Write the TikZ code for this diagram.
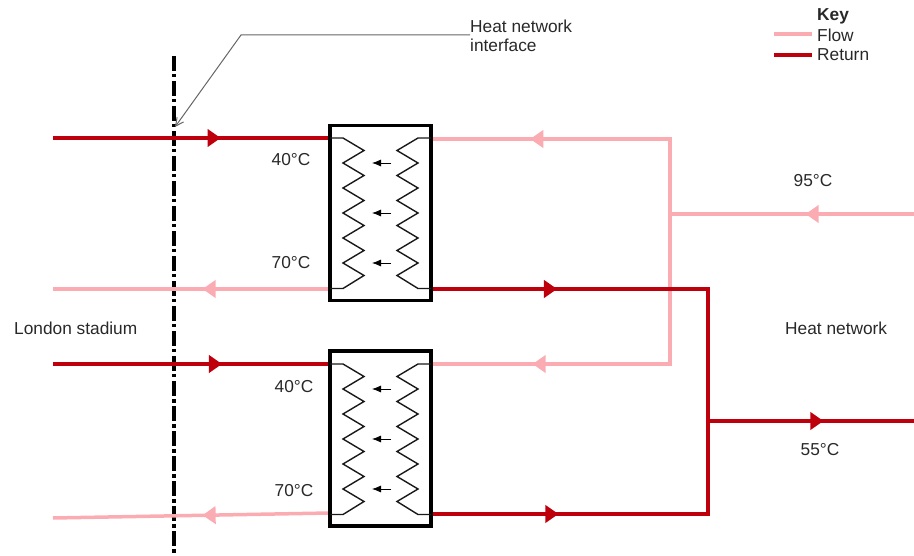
\documentclass[tikz,border=0pt]{standalone}
\usepackage{fontspec}
\setmainfont{Liberation Sans}
\usetikzlibrary{arrows.meta,shapes.geometric}
\definecolor{flowc}{RGB}{250,172,178}
\definecolor{retc}{RGB}{190,0,12}
\definecolor{txtc}{RGB}{40,40,40}
\tikzset{
  lbl/.style={font=\fontsize{17.3}{19}\selectfont, text=txtc, inner sep=0pt},
  flowpipe/.style={draw=flowc, line width=3.5pt, line join=miter},
  retpipe/.style={draw=retc, line width=3.5pt, line join=miter},
  flowtip/.style={isosceles triangle, isosceles triangle apex angle=70, fill=flowc, inner sep=0pt, minimum height=13pt, minimum width=15pt, sloped, allow upside down, anchor=center},
  rettip/.style={isosceles triangle, isosceles triangle apex angle=70, fill=retc, inner sep=0pt, minimum height=13pt, minimum width=15pt, sloped, allow upside down, anchor=center},
  backward/.style={shape border rotate=180},
  hxbox/.style={draw=black, line width=3.2pt, minimum width=101pt, minimum height=175pt, inner sep=0pt},
  coil/.style={draw=black!90, line width=1.4pt, line join=miter},
  heatarrow/.style={draw=black, line width=0.8pt, -{Latex[length=9pt,width=7pt]}},
  boundary/.style={draw=black, line width=3.2pt, dash pattern=on 15pt off 3pt on 3.5pt off 3.5pt},
  leader/.style={draw=black!60, line width=1pt, -{Straight Barb[length=8pt,width=8pt]}},
}
\newcommand{\hxcoil}[2]{%
  \draw[coil] (#1,#2) -- ++(13,0) -- ++(21,12.5) -- ++(-21,12.5) -- ++(21,12.5) -- ++(-21,12.5) -- ++(21,12.5) -- ++(-21,12.5) -- ++(21,12.5) -- ++(-21,12.5) -- ++(21,12.5) -- ++(-21,12.5) -- ++(21,12.5) -- ++(-21,13) -- ++(-13,0);
  \draw[coil] (#1+101,#2) -- ++(-13,0) -- ++(-21,12.5) -- ++(21,12.5) -- ++(-21,12.5) -- ++(21,12.5) -- ++(-21,12.5) -- ++(21,12.5) -- ++(-21,12.5) -- ++(21,12.5) -- ++(-21,12.5) -- ++(21,12.5) -- ++(-21,12.5) -- ++(21,13) -- ++(13,0);
  \draw[heatarrow] (#1+61,#2+25) -- (#1+42,#2+25);
  \draw[heatarrow] (#1+61,#2+75) -- (#1+42,#2+75);
  \draw[heatarrow] (#1+61,#2+125) -- (#1+42,#2+125);
}
\begin{document}
\begin{tikzpicture}[x=1pt,y=-1pt]
\useasboundingbox (0,0) rectangle (914,556);
% boundary line
\coordinate (bt) at (174,56);
\coordinate (bb) at (174,556);
\draw[boundary] (bt) -- (bb);
% free ends and junctions
\coordinate (w1) at (53,138);
\coordinate (w2) at (53,289);
\coordinate (w3) at (53,364);
\coordinate (w4) at (53,518);
\coordinate (fj) at (670,214);
\coordinate (fe) at (914,214);
\coordinate (rj) at (708,421);
\coordinate (re) at (914,421);
% heat exchangers
\node[hxbox] (hx1) at (380.5,213) {};
\node[hxbox] (hx2) at (380.5,438.5) {};
\coordinate (h1lt) at (330,138);
\coordinate (h1lb) at (330,289);
\coordinate (h1rt) at (431,139);
\coordinate (h1rb) at (431,289);
\coordinate (h2lt) at (330,364);
\coordinate (h2lb) at (330,513);
\coordinate (h2rt) at (431,364);
\coordinate (h2rb) at (431,514);
% flow pipes
\draw[flowpipe] (h1rt) -- node[flowtip,backward,pos=0.45] {} (670,139) -- (670,364) -- node[flowtip,pos=0.54] {} (h2rt);
\draw[flowpipe] (fe) -- node[flowtip,pos=0.41] {} (fj);
\draw[flowpipe] (h1lb) -- node[flowtip,pos=0.43] {} (w2);
\draw[flowpipe] (h2lb) -- node[flowtip,pos=0.43] {} (w4);
% return pipes
\draw[retpipe] (w1) -- node[rettip,pos=0.575] {} (h1lt);
\draw[retpipe] (w3) -- node[rettip,pos=0.58] {} (h2lt);
\draw[retpipe] (h1rb) -- node[rettip,pos=0.425] {} (708,289) -- (708,514) -- node[rettip,backward,pos=0.57] {} (h2rb);
\draw[retpipe] (rj) -- node[rettip,pos=0.52] {} (re);
% boxes redrawn over pipe ends
\node[hxbox] at (hx1) {};
\node[hxbox] at (hx2) {};
\hxcoil{330}{138}
\hxcoil{330}{364}
% leader
\coordinate (lstart) at (470,35);
\coordinate (lbend) at (241,35);
\coordinate (lend) at (175,127);
\draw[leader] (lstart) -- (lbend) -- (lend);
% labels
\node[lbl,anchor=west] (hni1) at (470,26) {Heat network};
\node[lbl,anchor=west] (hni2) at (470,45) {interface};
\node[lbl,anchor=west] (ls) at (14,328) {London stadium};
\node[lbl,anchor=west] (hn) at (785,328) {Heat network};
\node[lbl] (t95) at (813,181) {95°C};
\node[lbl] (t55) at (820,450) {55°C};
\node[lbl] (t1a) at (291,160) {40°C};
\node[lbl] (t1b) at (291,263) {70°C};
\node[lbl] (t2a) at (294,387) {40°C};
\node[lbl] (t2b) at (294,491) {70°C};
% key
\node[lbl,anchor=west,font=\fontsize{17.3}{19}\selectfont\bfseries] (k) at (817,16) {Key};
\node[lbl,anchor=west] (kf) at (817,35) {Flow};
\node[lbl,anchor=west] (kr) at (817,55) {Return};
\draw[flowpipe] ([xshift=-43pt,yshift=1pt]kf.west) -- ([xshift=-5pt,yshift=1pt]kf.west);
\draw[retpipe] ([xshift=-43pt]kr.west) -- ([xshift=-5pt]kr.west);
\end{tikzpicture}
\end{document}
